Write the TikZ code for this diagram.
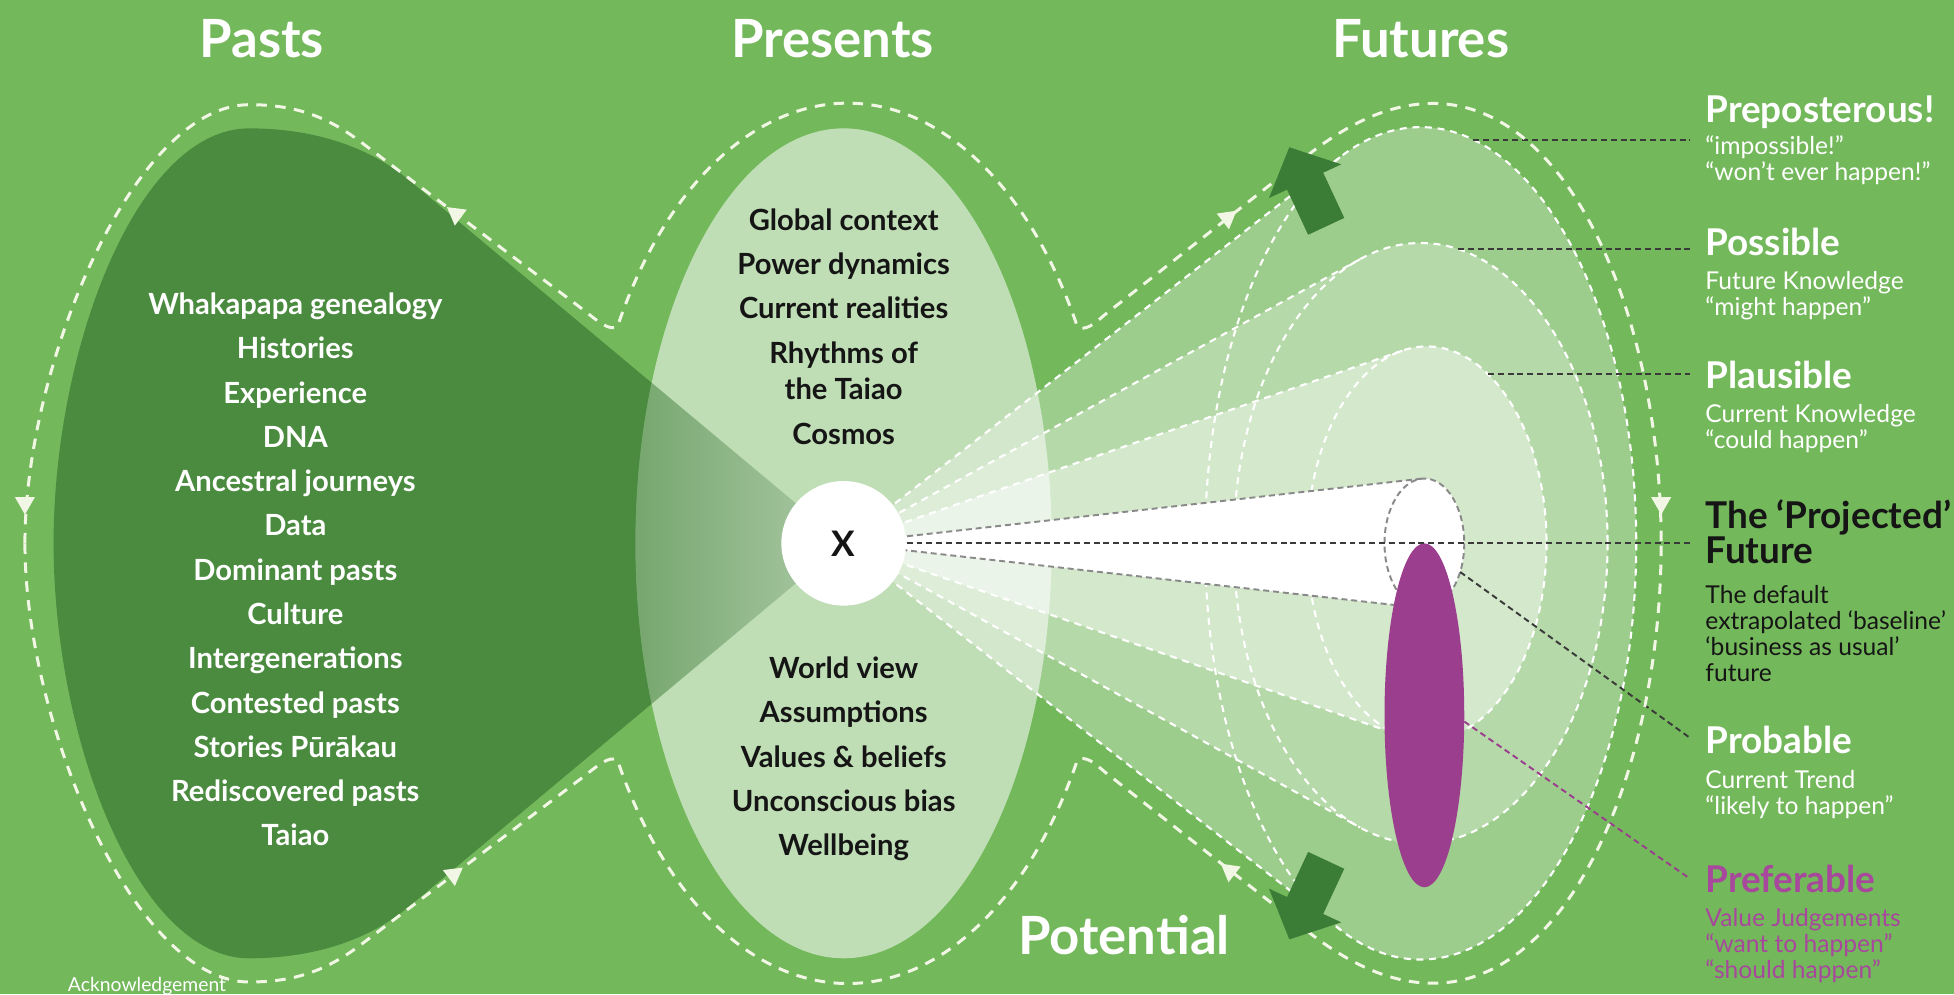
\documentclass[tikz,border=0pt]{standalone}
\usepackage{fontspec}
\setmainfont{Lato}
\usetikzlibrary{positioning,fadings}

\definecolor{meadow}{HTML}{73B85B}
\definecolor{pastgreen}{HTML}{4A8B3F}
\definecolor{arrowgreen}{HTML}{3B7C36}
\definecolor{plum}{HTML}{9A3E8D}
\definecolor{plumtext}{HTML}{A8489D}
\definecolor{leader}{HTML}{3A3A3A}
\definecolor{chalk}{HTML}{F1F7E4}
\definecolor{ink}{HTML}{151515}

\begin{document}
\begin{tikzpicture}[
  x=0.12462mm, y=-0.12462mm,
  cycleline/.style={chalk, line width=0.85pt, dash pattern=on 3pt off 2.4pt},
  bandline/.style={white, line width=0.6pt, dash pattern=on 2pt off 1.6pt},
  leaderline/.style={leader, line width=0.55pt, dash pattern=on 1.7pt off 1.1pt},
  sectiontitle/.style={font=\bfseries\fontsize{15}{18}\selectfont, text=white, anchor=base},
  itemlist/.style={font=\bfseries\fontsize{8.3}{12.6}\selectfont, align=center},
  labelhead/.style={font=\bfseries\fontsize{10.5}{12}\selectfont, text=white, anchor=base west, inner sep=0pt},
  labelnote/.style={font=\fontsize{7}{7.4}\selectfont, text=white, align=left, anchor=north west, inner sep=0pt},
  flowhead/.pic={\fill[chalk] (8,0) -- (-6,-8) -- (-6,8) -- cycle;},
  bigarrow/.pic={\fill[arrowgreen] (-36,-16) -- (4,-16) -- (4,-32) -- (34,0) -- (4,32) -- (4,16) -- (-36,16) -- cycle;}
]
  \useasboundingbox (0,0) rectangle (1568,798);
  \fill[meadow] (0,0) rectangle (1568,798);
  \coordinate (xc) at (677,436);

  % pasts
  \fill[pastgreen] (xc) -- (330,146) .. controls (290,112) and (240,103) .. (200,103)
    .. controls (110,103) and (43,280) .. (43,436)
    .. controls (43,592) and (110,769) .. (200,769)
    .. controls (240,769) and (290,760) .. (330,726) -- cycle;

  % presents
  \fill[white, opacity=0.55] (xc) ellipse[x radius=167, y radius=333];
  \begin{scope}
    \clip (xc) ellipse[x radius=167, y radius=333];
    \fill[pastgreen, opacity=0.55, path fading=east] (xc) -- (510,296.4) -- (510,575.6) -- cycle;
  \end{scope}

  % futures bands
  \fill[white, opacity=0.3] (xc) -- (1075.3,126.2)
    arc[start angle=-111.9, end angle=111.9, x radius=173, y radius=334] -- cycle;
  \fill[white, opacity=0.25] (xc) -- (1091.4,208)
    arc[start angle=-108.9, end angle=108.9, x radius=150, y radius=241] -- cycle;
  \fill[white, opacity=0.42] (xc) -- (1125.3,281.4)
    arc[start angle=-101.8, end angle=101.8, x radius=96, y radius=158] -- cycle;
  \fill[white] (xc) -- (1140.8,384.1)
    arc[start angle=-93.9, end angle=93.9, x radius=32, y radius=52] -- cycle;

  \draw[bandline] (1075.3,126.2) -- (xc) -- (1075.3,745.8);
  \draw[bandline] (1140,436) ellipse[x radius=173, y radius=334];
  \draw[bandline] (1091.4,208) -- (xc) -- (1091.4,664);
  \draw[bandline] (1140,436) ellipse[x radius=150, y radius=241];
  \draw[bandline] (1125.3,281.4) -- (xc) -- (1125.3,590.6);
  \draw[bandline] (1145,436) ellipse[x radius=96, y radius=158];
  \draw[leaderline, leader!60] (1140.8,384.1) -- (xc) -- (1140.8,487.9);
  \draw[leaderline, leader!60] (1143,436) ellipse[x radius=32, y radius=52];

  \fill[plum] (1143,574) ellipse[x radius=32, y radius=138];

  \node[circle, fill=white, minimum size=12.46mm, inner sep=0pt,
    font=\bfseries\fontsize{10}{12}\selectfont, text=ink] (xmark) at (xc) {X};

  % leaders
  \coordinate (prepfrom) at (1182,112);
  \coordinate (prepto) at (1356,112);
  \coordinate (possfrom) at (1170,200);
  \coordinate (possto) at (1356,200);
  \coordinate (plausfrom) at (1194,300);
  \coordinate (plausto) at (1356,300);
  \coordinate (projto) at (1356,436);
  \coordinate (probfrom) at (1171.7,459);
  \coordinate (probto) at (1356,592);
  \coordinate (preffrom) at (1175,579);
  \coordinate (prefto) at (1356,705);
  \draw[leaderline] (prepfrom) -- (prepto);
  \draw[leaderline] (possfrom) -- (possto);
  \draw[leaderline] (plausfrom) -- (plausto);
  \draw[leaderline] (xmark.east) -- (projto);
  \draw[leaderline] (probfrom) -- (probto);
  \draw[leaderline, plum] (preffrom) -- (prefto);

  % the loop through pasts, presents and futures
  \foreach \m in {1,-1}
    \draw[cycleline, shift={(0,436)}, yscale=\m, shift={(0,-436)}]
      (20,436) .. controls (20,292) and (108,84) .. (200,84)
      .. controls (238,84) and (262,94) .. (287,112) -- (466,247)
      .. controls (480,258) and (489,266) .. (495.5,262)
      arc[start angle=-150.5, end angle=-29.5, x radius=212, y radius=353]
      .. controls (871,266) and (878,260) .. (886,253) -- (1045,128)
      .. controls (1075,104) and (1110,83) .. (1150,83)
      .. controls (1262,83) and (1333,260) .. (1333,436);
  \pic[rotate=143] at (365,171) {flowhead};
  \pic[rotate=-90] at (20,405) {flowhead};
  \pic[rotate=37] at (365,701) {flowhead};
  \pic[rotate=38] at (986,174) {flowhead};
  \pic[rotate=-90] at (1333,405) {flowhead};
  \pic[rotate=142] at (986,698) {flowhead};

  \pic[rotate=115] at (1049,149) {bigarrow};
  \pic[rotate=-115] at (1049,723) {bigarrow};

  % titles
  \node[sectiontitle] (pasts) at (210,46) {Pasts};
  \node[sectiontitle] (presents) at (668,46) {Presents};
  \node[sectiontitle] (futures) at (1140,46) {Futures};
  \node[sectiontitle] (potential) at (902,766) {Potential};

  \node[itemlist, text=white] (pastlist) at (237,457) {Whakapapa genealogy\\Histories\\Experience\\DNA\\Ancestral journeys\\Data\\Dominant pasts\\Culture\\Intergenerations\\Contested pasts\\Stories Pūrākau\\Rediscovered pasts\\Taiao};
  \node[itemlist, text=ink] (presentup) at (677,262) {Global context\\Power dynamics\\Current realities\\Rhythms of\\[-2.1pt]the Taiao\\Cosmos};
  \node[itemlist, text=ink] (presentdown) at (677,609) {World view\\Assumptions\\Values \& beliefs\\Unconscious bias\\Wellbeing};

  % futures labels
  \node[labelhead] (prep) at (1368,98) {Preposterous!};
  \node[labelnote] (prepnote) at (1368,108) {“impossible!”\\“won’t ever happen!”};
  \node[labelhead] (poss) at (1368,205) {Possible};
  \node[labelnote] (possnote) at (1368,217) {Future Knowledge\\“might happen”};
  \node[labelhead] (plaus) at (1368,312) {Plausible};
  \node[labelnote] (plausnote) at (1368,324) {Current Knowledge\\“could happen”};
  \node[labelhead, text=ink] (proj) at (1368,424) {The ‘Projected’};
  \node[labelhead, text=ink] (projfut) at (1368,452) {Future};
  \node[labelnote, text=ink] (projnote) at (1368,469) {The default\\extrapolated ‘baseline’\\‘business as usual’\\future};
  \node[labelhead] (prob) at (1368,605) {Probable};
  \node[labelnote] (probnote) at (1368,618) {Current Trend\\“likely to happen”};
  \node[labelhead, text=plumtext] (pref) at (1368,716) {Preferable};
  \node[labelnote, text=plumtext] (prefnote) at (1368,728) {Value Judgements\\“want to happen”\\“should happen”};

  \node[labelnote, anchor=base west, font=\fontsize{5.5}{6}\selectfont] (ack) at (54,796) {Acknowledgement};
\end{tikzpicture}
\end{document}
